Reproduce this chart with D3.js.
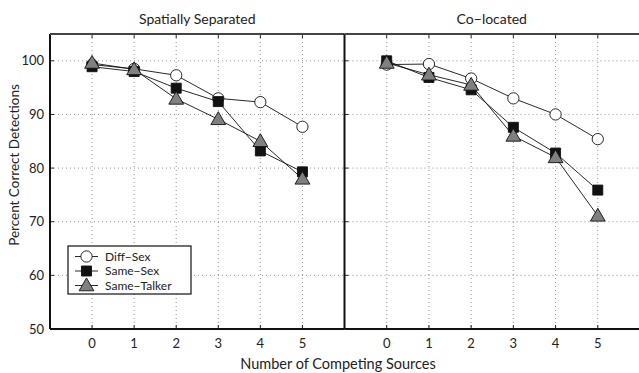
<!DOCTYPE html>
<html>
<head>
<meta charset="utf-8">
<script src="https://cdn.jsdelivr.net/npm/d3@7"></script>
<style>
  html, body { margin: 0; padding: 0; background: #fff; }
  svg { display: block; }
  text { font-family: Lato, "Open Sans", sans-serif; fill: #222; }
</style>
</head>
<body>
<svg id="chart" width="639" height="373"></svg>
<script>
// Number of competing sources on the x axis
const sources = [0, 1, 2, 3, 4, 5];
const panelTitles = ["Spatially Separated", "Co\u2212located"];
const seriesNames = ["Diff\u2212Sex", "Same\u2212Sex", "Same\u2212Talker"];
const yTicks = [50, 60, 70, 80, 90, 100];

// Percent correct detections, spatially separated condition
const separatedDiffSex    = [99.3, 98.5, 97.3, 93.0, 92.3, 87.7];
const separatedSameSex    = [98.9, 98.0, 94.9, 92.4, 83.2, 79.3];
const separatedSameTalker = [99.6, 98.4, 92.9, 89.1, 85.0, 78.0];

// Percent correct detections, co-located condition
const colocatedDiffSex    = [99.3, 99.4, 96.7, 93.0, 90.0, 85.4];
const colocatedSameSex    = [100.0, 96.9, 94.6, 87.6, 82.8, 75.9];
const colocatedSameTalker = [99.6, 97.4, 95.5, 86.0, 82.0, 71.1];

const panels = [
  { title: panelTitles[0], series: [separatedDiffSex, separatedSameSex, separatedSameTalker] },
  { title: panelTitles[1], series: [colocatedDiffSex, colocatedSameSex, colocatedSameTalker] }
];

const svg = d3.select("#chart");
const plotTop = 34, plotBottom = 329;
const panelX = [[50, 344.5], [344.5, 640]];

const y = d3.scaleLinear().domain([50, 105]).range([plotBottom, plotTop]);

const markerStyle = [
  { type: d3.symbolCircle, size: 100, fill: "#fff" },
  { type: d3.symbolSquare, size: 100, fill: "#111" },
  { type: d3.symbolTriangle, size: 95, fill: "#808080" }
];

panels.forEach((p, pi) => {
  const [x0, x1] = panelX[pi];
  const x = d3.scaleLinear().domain([-1, 6]).range([x0, x1]);
  const g = svg.append("g");

  // dotted grid
  g.selectAll(".gx").data(sources).join("line")
    .attr("x1", d => x(d)).attr("x2", d => x(d))
    .attr("y1", plotTop).attr("y2", plotBottom)
    .attr("stroke", "#777").attr("stroke-width", 0.8)
    .attr("stroke-dasharray", "1,3");
  g.selectAll(".gy").data(yTicks.filter(v => v > 50)).join("line")
    .attr("x1", x0).attr("x2", x1)
    .attr("y1", d => y(d)).attr("y2", d => y(d))
    .attr("stroke", "#777").attr("stroke-width", 0.8)
    .attr("stroke-dasharray", "1,3");

  // inward tick marks along the frame
  g.selectAll(".tb").data(sources).join("line")
    .attr("x1", d => x(d)).attr("x2", d => x(d))
    .attr("y1", plotBottom).attr("y2", plotBottom - 4)
    .attr("stroke", "#222").attr("stroke-width", 1);
  g.selectAll(".tt").data(sources).join("line")
    .attr("x1", d => x(d)).attr("x2", d => x(d))
    .attr("y1", plotTop).attr("y2", plotTop + 4)
    .attr("stroke", "#222").attr("stroke-width", 1);
  g.selectAll(".tl").data(yTicks).join("line")
    .attr("x1", x0).attr("x2", x0 + 4)
    .attr("y1", d => y(d)).attr("y2", d => y(d))
    .attr("stroke", "#222").attr("stroke-width", 1);

  // x tick labels
  g.selectAll(".xl").data(sources).join("text")
    .attr("x", d => x(d)).attr("y", 348)
    .attr("text-anchor", "middle").attr("font-size", 13)
    .text(d => d);

  // panel title
  g.append("text")
    .attr("x", (x0 + Math.min(x1, 639)) / 2).attr("y", 24)
    .attr("text-anchor", "middle").attr("font-size", 14)
    .text(p.title);

  // series lines and markers
  p.series.forEach((vals, si) => {
    const pts = sources.map((s, i) => [x(s), y(vals[i])]);
    g.append("path")
      .attr("d", d3.line()(pts))
      .attr("fill", "none").attr("stroke", "#111").attr("stroke-width", 0.9);
    const m = markerStyle[si];
    g.selectAll(".m" + si).data(pts).join("path")
      .attr("transform", d => `translate(${d[0]},${d[1] + (si === 2 ? 1 : 0)})`)
      .attr("d", d3.symbol().type(m.type).size(m.size))
      .attr("fill", m.fill).attr("stroke", "#111").attr("stroke-width", 0.9);
  });

  // frame lines
  g.append("line").attr("x1", x0).attr("x2", x0).attr("y1", plotTop).attr("y2", plotBottom)
    .attr("stroke", "#111").attr("stroke-width", 2);
  g.append("line").attr("x1", x0).attr("x2", x1).attr("y1", plotBottom).attr("y2", plotBottom)
    .attr("stroke", "#111").attr("stroke-width", 2);
  g.append("line").attr("x1", x0).attr("x2", x1).attr("y1", plotTop).attr("y2", plotTop)
    .attr("stroke", "#444").attr("stroke-width", 2);
});

// y tick labels (left panel only)
svg.selectAll(".yl").data(yTicks).join("text")
  .attr("x", 44).attr("y", d => y(d) + 4.5)
  .attr("text-anchor", "end").attr("font-size", 13)
  .text(d => d);

// axis titles
svg.append("text")
  .attr("x", 338).attr("y", 369)
  .attr("text-anchor", "middle").attr("font-size", 14.5)
  .text("Number of Competing Sources");
svg.append("text")
  .attr("transform", "translate(19,165) rotate(-90)")
  .attr("text-anchor", "middle").attr("font-size", 13.5)
  .text("Percent Correct Detections");

// legend
const lg = svg.append("g").attr("transform", "translate(68,246)");
lg.append("rect").attr("width", 123).attr("height", 48)
  .attr("fill", "#fff").attr("stroke", "#111").attr("stroke-width", 1.2);
seriesNames.forEach((name, i) => {
  const cy = 10.5 + i * 14.5;
  lg.append("line").attr("x1", 7).attr("x2", 30).attr("y1", cy).attr("y2", cy)
    .attr("stroke", "#111").attr("stroke-width", 0.9);
  const m = markerStyle[i];
  lg.append("path")
    .attr("transform", `translate(18.5,${cy + (i === 2 ? 1 : 0)})`)
    .attr("d", d3.symbol().type(m.type).size(m.size))
    .attr("fill", m.fill).attr("stroke", "#111").attr("stroke-width", 0.9);
  lg.append("text").attr("x", 37).attr("y", cy + 4.2)
    .attr("font-size", 12).text(name);
});
</script>
</body>
</html>
